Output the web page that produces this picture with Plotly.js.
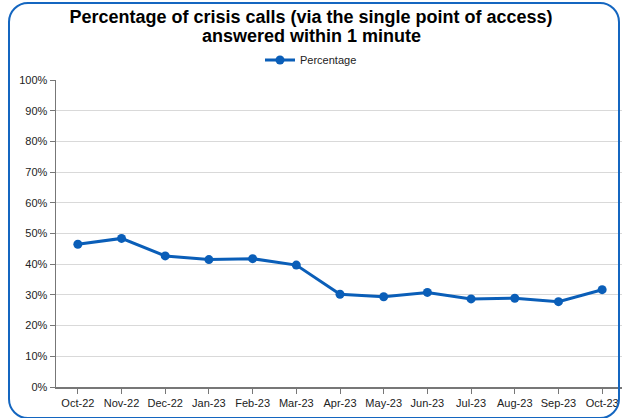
<!DOCTYPE html>
<html>
<head>
<meta charset="utf-8">
<script src="https://cdn.plot.ly/plotly-3.0.1.min.js"></script>
<style>
  html, body { margin: 0; padding: 0; width: 622px; height: 418px; overflow: hidden; background: #fff; }
  #frame { position: absolute; left: 8px; top: 2px; width: 612px; height: 417px; border: 2.5px solid #1466C0; border-radius: 20px; box-sizing: border-box; pointer-events: none; z-index: 5; }
  #chart { position: absolute; left: 0; top: 0; }
</style>
</head>
<body>
<div id="chart"></div>
<div id="frame"></div>
<script>
const months = ["Oct-22","Nov-22","Dec-22","Jan-23","Feb-23","Mar-23","Apr-23","May-23","Jun-23","Jul-23","Aug-23","Sep-23","Oct-23"];
const percentage = [46.5, 48.4, 42.7, 41.5, 41.8, 39.7, 30.2, 29.4, 30.8, 28.7, 28.9, 27.8, 31.7];
const seriesName = "Percentage";
const titleLine1 = "Percentage of crisis calls (via the single point of access)";
const titleLine2 = "answered within 1 minute";

const blue = "#0A5EB8";
const font = "Liberation Sans, Arial, sans-serif";
const titleFont = { family: font, size: 18, color: "#000", weight: "bold" };

const trace = {
  x: months,
  y: percentage,
  type: "scatter",
  mode: "lines+markers",
  name: seriesName,
  line: { color: blue, width: 3 },
  marker: { color: blue, size: 9, symbol: "circle" },
  hoverinfo: "skip"
};

const layout = {
  width: 640,
  height: 418,
  margin: { l: 56, r: 16, t: 80, b: 31 },
  paper_bgcolor: "#ffffff",
  plot_bgcolor: "#ffffff",
  font: { family: font, size: 11, color: "#222" },
  title: {
    text: titleLine1,
    font: titleFont,
    x: 311 / 640,
    xref: "container",
    xanchor: "center",
    y: 1 - 17 / 418,
    yref: "container",
    yanchor: "middle"
  },
  annotations: [{
    text: titleLine2,
    font: titleFont,
    showarrow: false,
    xref: "paper",
    yref: "paper",
    x: (311 - 56) / 568,
    xanchor: "center",
    y: 1 + (80 - 36) / 307,
    yanchor: "middle"
  }],
  showlegend: true,
  legend: {
    orientation: "h",
    x: (311 - 56) / 568,
    xanchor: "center",
    y: 1 + 20 / 307,
    yanchor: "middle",
    font: { family: font, size: 11, color: "#222" },
    bgcolor: "rgba(0,0,0,0)"
  },
  xaxis: {
    type: "category",
    range: [-0.5, 12.5],
    showgrid: false,
    showline: true,
    linecolor: "#777",
    linewidth: 1.5,
    ticks: "outside",
    ticklen: 5,
    tickcolor: "#777",
    tickfont: { family: font, size: 11, color: "#222" },
    fixedrange: true,
    zeroline: false
  },
  yaxis: {
    range: [0, 100],
    dtick: 10,
    tick0: 0,
    ticksuffix: "%",
    showgrid: true,
    gridcolor: "#d9d9d9",
    gridwidth: 1,
    showline: true,
    linecolor: "#777",
    linewidth: 1.5,
    ticks: "outside",
    ticklen: 5,
    tickcolor: "#777",
    tickfont: { family: font, size: 11, color: "#222" },
    zeroline: false,
    fixedrange: true
  }
};

Plotly.newPlot("chart", [trace], layout, { staticPlot: true, displayModeBar: false });
</script>
</body>
</html>
